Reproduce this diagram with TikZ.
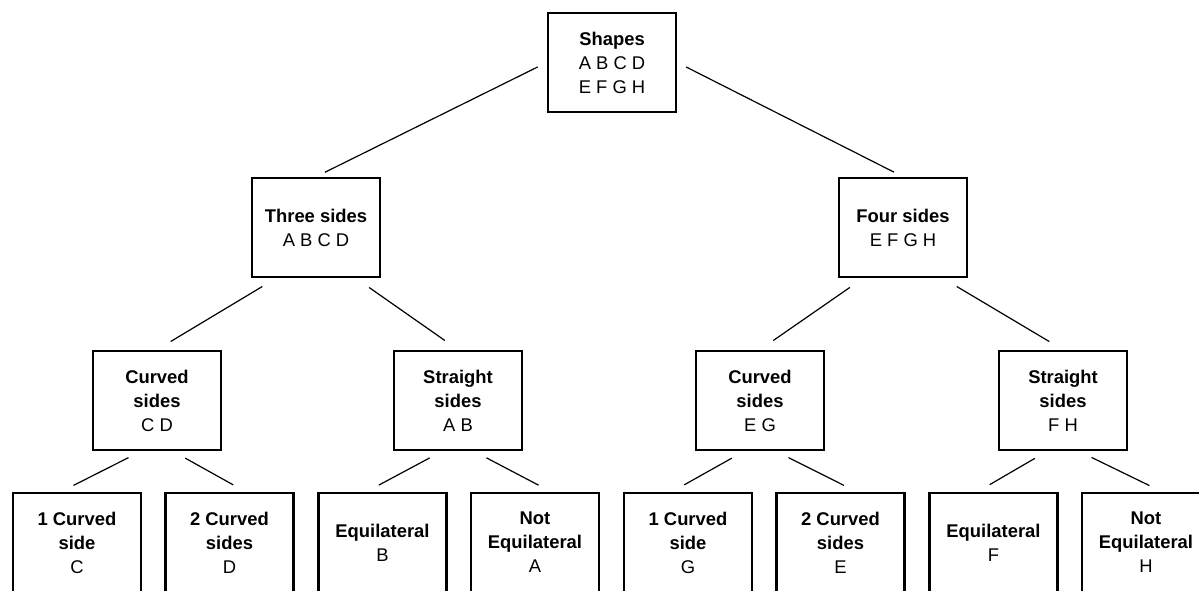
\documentclass[tikz,border=0pt]{standalone}
\usepackage{fontspec}
\setmainfont{Liberation Sans}

\begin{document}
\begin{tikzpicture}[x=0.5pt,y=-0.5pt,
        shapebox/.style={draw,line width=1.3pt,minimum width=64pt,minimum height=49.5pt,inner sep=0pt,align=center,font=\fontsize{9.2}{12}\selectfont},
        rootline/.style={line width=0.6pt,shorten <=5pt,shorten >=5pt},
        branch/.style={line width=0.6pt,shorten <=8pt,shorten >=8pt},
        twig/.style={line width=0.6pt,shorten <=7pt,shorten >=7pt}]
        \clip (0,0) rectangle (1199,590);

        % Top of the tree
        \node[shapebox] (shapes) at (612,62.5) {\textbf{Shapes}\\A B C D\\E F G H};

        % Split by number of sides
        \node[shapebox] (three) at (316,227.5) {\textbf{Three sides}\\A B C D};
        \node[shapebox] (four) at (903,227.5) {\textbf{Four sides}\\E F G H};

        % Split by kind of sides
        \node[shapebox] (curvedCD) at (157,400.5) {\textbf{Curved}\\\textbf{sides}\\C D};
        \node[shapebox] (straightAB) at (458,400.5) {\textbf{Straight}\\\textbf{sides}\\A B};
        \node[shapebox] (curvedEG) at (760,400.5) {\textbf{Curved}\\\textbf{sides}\\E G};
        \node[shapebox] (straightFH) at (1063,400.5) {\textbf{Straight}\\\textbf{sides}\\F H};

        % Leaves (cut off at the bottom)
        \node[shapebox] (oneC) at (77,542.5) {\textbf{1 Curved}\\\textbf{side}\\C};
        \node[shapebox] (twoD) at (229.5,542.5) {\textbf{2 Curved}\\\textbf{sides}\\D};
        \node[shapebox] (equiB) at (382.5,542.5) {\textbf{Equilateral}\\B};
        \node[shapebox] (notA) at (535,542.5) {\textbf{Not}\\\textbf{Equilateral}\\A};
        \node[shapebox] (oneG) at (688,542.5) {\textbf{1 Curved}\\\textbf{side}\\G};
        \node[shapebox] (twoE) at (840.5,542.5) {\textbf{2 Curved}\\\textbf{sides}\\E};
        \node[shapebox] (equiF) at (993.5,542.5) {\textbf{Equilateral}\\F};
        \node[shapebox] (notH) at (1146,542.5) {\textbf{Not}\\\textbf{Equilateral}\\H};

        % Lines from the top
        \draw[rootline] (shapes.west) -- (three.north);
        \draw[rootline] (shapes.east) -- (four.north);

        % Lines to the middle row
        \draw[branch] ([xshift=-20pt]three.south) -- (curvedCD.north);
        \draw[branch] ([xshift=20pt]three.south) -- (straightAB.north);
        \draw[branch] ([xshift=-20pt]four.south) -- (curvedEG.north);
        \draw[branch] ([xshift=20pt]four.south) -- (straightFH.north);

        % Lines to the leaves
        \draw[twig] ([xshift=-8pt]curvedCD.south) -- ([xshift=-8pt]oneC.north);
        \draw[twig] ([xshift=8pt]curvedCD.south) -- ([xshift=8pt]twoD.north);
        \draw[twig] ([xshift=-8pt]straightAB.south) -- ([xshift=-8pt]equiB.north);
        \draw[twig] ([xshift=8pt]straightAB.south) -- ([xshift=8pt]notA.north);
        \draw[twig] ([xshift=-8pt]curvedEG.south) -- ([xshift=-8pt]oneG.north);
        \draw[twig] ([xshift=8pt]curvedEG.south) -- ([xshift=8pt]twoE.north);
        \draw[twig] ([xshift=-8pt]straightFH.south) -- ([xshift=-8pt]equiF.north);
        \draw[twig] ([xshift=8pt]straightFH.south) -- ([xshift=8pt]notH.north);
\end{tikzpicture}
\end{document}
